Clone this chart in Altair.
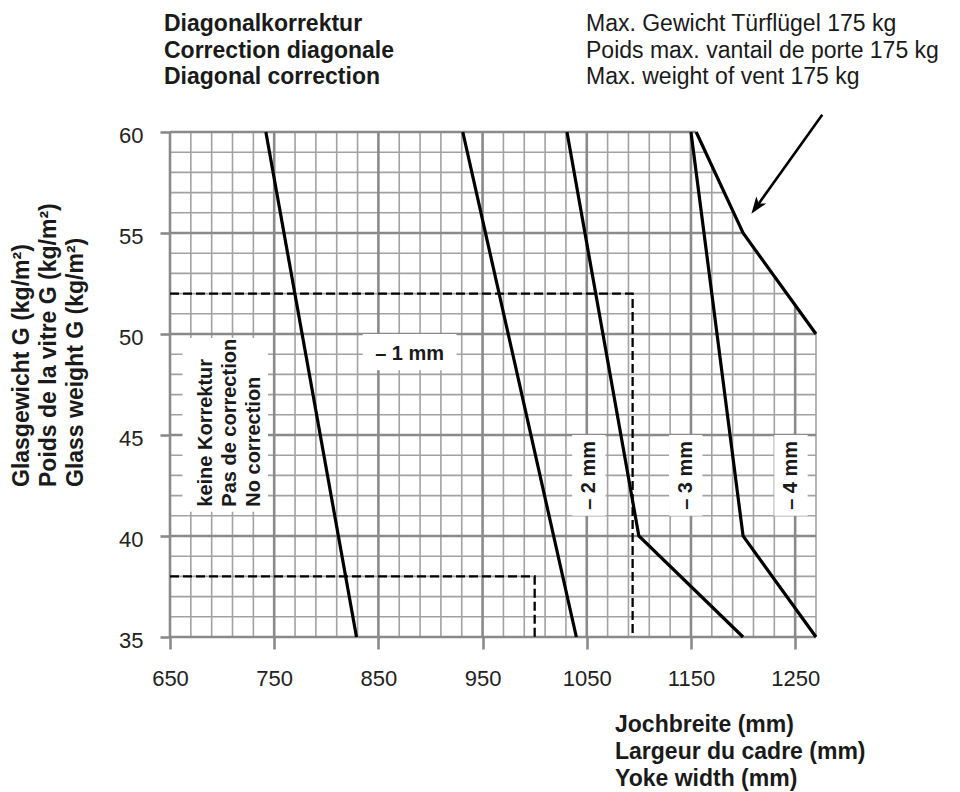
import altair as alt
import numpy as np
import pandas as pd

# ---------------- data ----------------
X_MIN, X_MAX = 650, 1270
Y_MIN, Y_MAX = 35, 60
x_tick_values = [650, 750, 850, 950, 1050, 1150, 1250]
y_tick_values = [35, 40, 45, 50, 55, 60]
GRID_DX, GRID_DY = 20, 1

# boundary lines between correction zones
line_a_x = [742, 829]
line_a_y = [60, 35]
line_b_x = [931, 1040]
line_b_y = [60, 35]
line_c_x = [1031, 1100, 1200]
line_c_y = [60, 40, 35]
line_d_x = [1150, 1200, 1270]
line_d_y = [60, 40, 35]
# max. vent weight 175 kg
max_x = [1155, 1200, 1270]
max_y = [60, 55, 50]

# example readings (dashed)
ex1_x = [650, 1094, 1094]
ex1_y = [52, 52, 35]
ex2_x = [650, 1000, 1000]
ex2_y = [38, 38, 35]

# arrow (tail -> tip)
arrow_x = [1276, 1208]
arrow_y = [60.85, 55.95]

# zone labels
zone_text = ["– 2 mm", "– 3 mm", "– 4 mm"]
zone_x = [1052, 1145, 1246]
zone_y = [43, 43, 43]
one_text = ["– 1 mm"]
one_x = [880]
one_y = [49.0]
none_text = ["keine Korrektur", "Pas de correction", "No correction"]
none_x = [690]
none_y = [41.45]

# white label boxes
box_x1 = [662, 835, 1036, 1129, 1230]
box_x2 = [744, 925, 1068, 1161, 1262]
box_y1 = [41.2, 48.2, 41, 41, 41]
box_y2 = [49.8, 50.0, 45, 45, 45]

title_left = ["Diagonalkorrektur", "Correction diagonale", "Diagonal correction"]
title_right = ["Max. Gewicht Türflügel 175 kg", "Poids max. vantail de porte 175 kg",
               "Max. weight of vent 175 kg"]
y_title = ["Glasgewicht G (kg/m²)", "Poids de la vitre G (kg/m²)", "Glass weight G (kg/m²)"]
x_title = ["Jochbreite (mm)", "Largeur du cadre (mm)", "Yoke width (mm)"]

# ---------------- styling ----------------
W, H = 646, 505
FONT = "Liberation Sans"
TXT = "#1a1a1a"
GRID_MINOR = "#a2a2a2"
GRID_MAJOR = "#8a8a8a"

xscale = alt.Scale(domain=[X_MIN, X_MAX], nice=False, zero=False)
yscale = alt.Scale(domain=[Y_MIN, Y_MAX], nice=False, zero=False)
xaxis = alt.Axis(values=x_tick_values, format="d", domain=False, grid=False,
                 tickSize=12, tickWidth=2.6, tickColor=GRID_MAJOR,
                 labelFont=FONT, labelFontSize=22, labelColor="#222222",
                 labelPadding=19, labelFlush=False, labelOverlap=False, title=None)
yaxis = alt.Axis(values=y_tick_values, format="d", domain=False, grid=False,
                 tickSize=10, tickWidth=2.6, tickColor=GRID_MAJOR,
                 labelFont=FONT, labelFontSize=22, labelColor="#222222",
                 labelPadding=17, labelOffset=3, labelFlush=False, labelOverlap=False,
                 title=None)


def X(f):
    return alt.X(f"{f}:Q", scale=xscale, axis=xaxis, title=None)


def Y(f):
    return alt.Y(f"{f}:Q", scale=yscale, axis=yaxis, title=None)


# ---------------- grid clipped under the max-weight line ----------------
vx = np.arange(X_MIN, X_MAX + 1, GRID_DX)
vtop = np.interp(vx, max_x, max_y)
vert = pd.DataFrame({"x": vx, "x2": vx, "y": float(Y_MIN), "y2": vtop,
                     "major": (vx - X_MIN) % 100 == 0})
hy = np.arange(Y_MIN, Y_MAX + 1, GRID_DY)
hright = np.interp(hy, max_y[::-1], max_x[::-1])
horiz = pd.DataFrame({"x": float(X_MIN), "x2": hright, "y": hy, "y2": hy,
                      "major": hy % 5 == 0})
grid = pd.concat([vert, horiz], ignore_index=True)


def grid_layer(df, color, width):
    return alt.Chart(df).mark_rule(color=color, strokeWidth=width).encode(
        x=X("x"), x2="x2:Q", y=Y("y"), y2="y2:Q")


minor_layer = grid_layer(grid[~grid.major], GRID_MINOR, 1.6)
major_layer = grid_layer(grid[grid.major], GRID_MAJOR, 2.6)

boxes = pd.DataFrame({"x": box_x1, "x2": box_x2, "y": box_y1, "y2": box_y2})
box_layer = alt.Chart(boxes).mark_rect(color="white").encode(
    x=X("x"), x2="x2:Q", y=Y("y"), y2="y2:Q")


def path_df(series):
    rows = []
    for name, (xs, ys) in series.items():
        for i, (a, b) in enumerate(zip(xs, ys)):
            rows.append({"series": name, "x": a, "y": b, "i": i})
    return pd.DataFrame(rows)


curves = path_df({"a": (line_a_x, line_a_y), "b": (line_b_x, line_b_y),
                  "c": (line_c_x, line_c_y), "d": (line_d_x, line_d_y),
                  "max": (max_x, max_y)})
curve_layer = alt.Chart(curves).mark_line(color="black", strokeWidth=3.2).encode(
    x=X("x"), y=Y("y"), detail="series:N", order="i:Q")

dashes = path_df({"e1": (ex1_x, ex1_y), "e2": (ex2_x, ex2_y)})
dash_layer = alt.Chart(dashes).mark_line(color="black", strokeWidth=2.3,
                                         strokeDash=[9, 4]).encode(
    x=X("x"), y=Y("y"), detail="series:N", order="i:Q")

# arrow: shaft stops a little before the tip, head drawn as a rotated symbol
px_per_x = W / (X_MAX - X_MIN)
px_per_y = H / (Y_MAX - Y_MIN)
dxp = (arrow_x[1] - arrow_x[0]) * px_per_x
dyp = -(arrow_y[1] - arrow_y[0]) * px_per_y
length = float(np.hypot(dxp, dyp))
frac = 10.0 / length
shaft = pd.DataFrame({"x": [arrow_x[0]], "y": [arrow_y[0]],
                      "x2": [arrow_x[1] + frac * (arrow_x[0] - arrow_x[1])],
                      "y2": [arrow_y[1] + frac * (arrow_y[0] - arrow_y[1])]})
shaft_layer = alt.Chart(shaft).mark_rule(color="black", strokeWidth=2.6).encode(
    x=X("x"), y=Y("y"), x2="x2:Q", y2="y2:Q")
head_angle = float(np.degrees(np.arctan2(dxp, -dyp)) % 360)
head = pd.DataFrame({"x": [arrow_x[1]], "y": [arrow_y[1]]})
head_layer = alt.Chart(head).mark_point(
    shape="M0,0L0.72,2L0,1.5L-0.72,2Z", filled=True, size=289, angle=head_angle,
    color="black", opacity=1, strokeWidth=0).encode(x=X("x"), y=Y("y"))

# zone labels
one_layer = alt.Chart(pd.DataFrame({"x": one_x, "y": one_y, "t": one_text})).mark_text(
    font=FONT, fontSize=20, fontWeight="bold", color=TXT, align="center",
    baseline="middle").encode(x=X("x"), y=Y("y"), text="t:N")
zone_layer = alt.Chart(pd.DataFrame({"x": zone_x, "y": zone_y, "t": zone_text})).mark_text(
    font=FONT, fontSize=20, fontWeight="bold", color=TXT, align="center",
    baseline="middle", angle=270).encode(x=X("x"), y=Y("y"), text="t:N")
none_layer = alt.Chart(pd.DataFrame({"x": none_x, "y": none_y,
                                     "t": ["\n".join(none_text)]})).mark_text(
    font=FONT, fontSize=20, fontWeight="bold", color=TXT, align="left",
    baseline="alphabetic", angle=270, lineBreak="\n", lineHeight=24).encode(
    x=X("x"), y=Y("y"), text="t:N")


def title_layer(lines, px, py, weight, angle=0, lh=26.7):
    kw = dict(font=FONT, fontSize=23, fontWeight=weight, color=TXT, align="left",
              baseline="alphabetic", lineBreak="\n", lineHeight=lh)
    if angle:
        kw["angle"] = angle
    return alt.Chart(pd.DataFrame({"t": ["\n".join(lines)]})).mark_text(**kw).encode(
        x=alt.value(px), y=alt.value(py), text="t:N")


t_left = title_layer(title_left, -6, -101, "bold")
t_right = title_layer(title_right, 416, -101, "normal")
t_y = title_layer(y_title, -141, 355, "bold", angle=270, lh=27)
t_x = title_layer(x_title, 445, 600, "bold", lh=27)

chart = alt.layer(
    minor_layer, major_layer, box_layer, curve_layer, dash_layer,
    shaft_layer, head_layer, one_layer, zone_layer, none_layer,
    t_left, t_right, t_y, t_x,
).properties(
    width=W, height=H,
    padding={"left": 162, "top": 124, "right": 136, "bottom": 155},
    autosize=alt.AutoSizeParams(type="none"),
).configure_view(stroke=None)

chart.save("out.html", embed_options={"renderer": "svg", "actions": False})
